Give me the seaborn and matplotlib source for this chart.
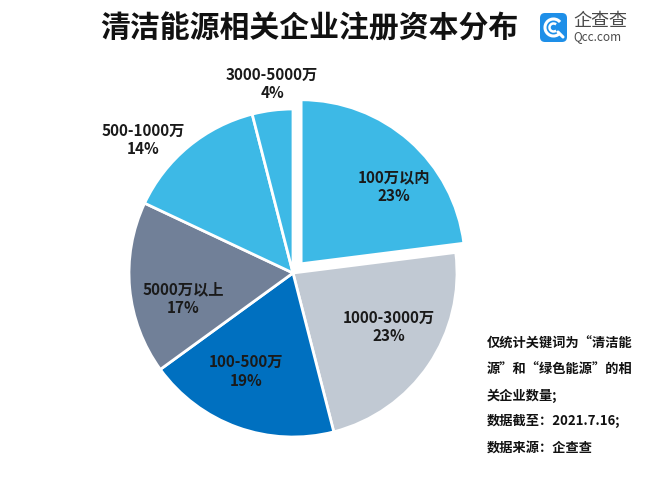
import matplotlib
matplotlib.use("Agg")
import matplotlib.pyplot as plt
from matplotlib.patches import FancyBboxPatch, Arc
import seaborn as sns

# ---------------- data ----------------
categories = ["100万以内", "1000-3000万", "100-500万", "5000万以上", "500-1000万", "3000-5000万"]
shares = [23, 23, 19, 17, 14, 4]
pct_labels = ["23%", "23%", "19%", "17%", "14%", "4%"]
title = "清洁能源相关企业注册资本分布"
notes = ["仅统计关键词为\u201c清洁能", "源\u201d和\u201c绿色能源\u201d的相", "关企业数量;", "数据截至：2021.7.16;", "数据来源：企查查"]

# ---------------- style ----------------
sns.set_theme(style="white")
plt.rcParams['font.family'] = ['Noto Sans CJK SC', 'DejaVu Sans']

colors = ["#3DB9E6", "#C1C9D3", "#0070C0", "#718098", "#3DB9E6", "#3DB9E6"]
explode = [0.075, 0, 0, 0, 0, 0]
# label positions in pie-radius units (x, y)
label_pos = [(0.616, 0.524), (0.585, -0.33), (-0.287, -0.60), (-0.668, -0.159), (-0.915, 0.81), (-0.128, 1.152)]

W, H = 657, 491
fig = plt.figure(figsize=(W / 100, H / 100), dpi=100)
cx, cy, R = 293, 273, 164
half = 200
ax = fig.add_axes([(cx - half) / W, (H - cy - half) / H, 2 * half / W, 2 * half / H])

wedges, _ = ax.pie(shares, colors=colors, startangle=90, counterclock=False,
                   explode=explode, radius=1.0,
                   wedgeprops=dict(edgecolor="white", linewidth=2))
lim = half / R
ax.set_xlim(-lim, lim)
ax.set_ylim(-lim, lim)
ax.set_aspect("equal")
ax.axis("off")

for cat, pct, (lx, ly) in zip(categories, pct_labels, label_pos):
    ax.text(lx, ly, cat + "\n" + pct, ha="center", va="center", fontsize=11,
            fontweight="bold", color="#1a1a1a", linespacing=1.2)

# title
fig.text(309 / W, 1 - 29 / H, title, ha="center", va="center", fontsize=21.5,
         fontweight="bold", color="#111111")

# logo
lax = fig.add_axes([0, 0, 1, 1], facecolor="none")
lax.set_xlim(0, W)
lax.set_ylim(H, 0)
lax.axis("off")
lax.add_patch(FancyBboxPatch((540, 13), 27, 29, boxstyle="round,pad=0,rounding_size=5",
                             facecolor="#1E8FE8", edgecolor="none"))
lax.add_patch(Arc((553.5, 27.5), 17, 17, theta1=40, theta2=320, color="white", lw=2.2))
lax.add_patch(Arc((553.5, 27.5), 8, 8, theta1=50, theta2=310, color="white", lw=1.8))
lax.plot([558, 563], [32, 37], color="white", lw=2.2, solid_capstyle="round")
lax.text(573, 21, "企查查", ha="left", va="center", fontsize=13, color="#4a4a4a")
lax.text(573, 37, "Qcc.com", ha="left", va="center", fontsize=8.5, color="#4a4a4a")

# notes
for i, line in enumerate(notes):
    lax.text(487, 344 + i * 25.8, line, ha="left", va="center", fontsize=9.5,
             fontweight="bold", color="#111111")

fig.savefig("out.png", dpi=100, facecolor="white")
